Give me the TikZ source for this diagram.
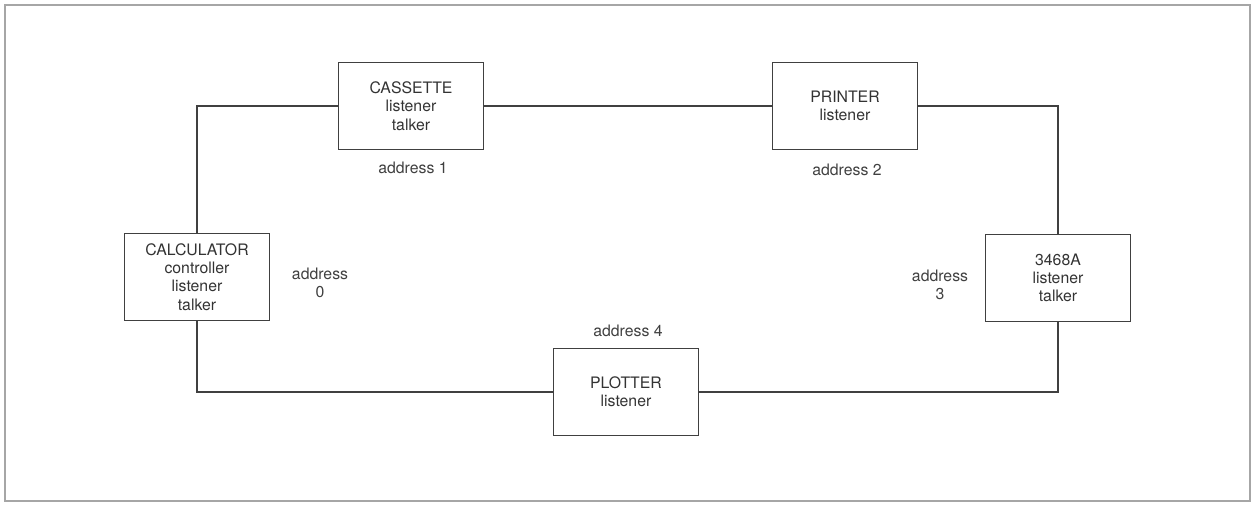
\documentclass[tikz,border=0pt]{standalone}
\usepackage{fontspec}
\setmainfont{TeX Gyre Heros}
\usepackage{tikz}
\usetikzlibrary{calc}

\begin{document}
\begin{tikzpicture}[x=0.02cm,y=-0.02cm,
    unit/.style={draw=black!75, line width=1pt, minimum width=2.9cm, minimum height=1.74cm,
      align=center, inner sep=1pt, text=black!80, font=\fontsize{9}{10.4}\selectfont},
    addr/.style={align=center, inner sep=0pt, text=black!75, font=\fontsize{9}{10.4}\selectfont},
    bus/.style={draw=black!75, line width=1pt}]
    \useasboundingbox (0,0) rectangle (1251,504);
    \draw[black!35, line width=0.6pt] (5,5) rectangle (1250,501);

    \node[unit] (calc) at (197,277) {CALCULATOR\\controller\\listener\\talker};
    \node[unit] (cass) at (411,106) {CASSETTE\\listener\\talker};
    \node[unit] (prin) at (845,106) {PRINTER\\listener};
    \node[unit] (hp) at (1058,278) {3468A\\listener\\talker};
    \node[unit] (plot) at (626,392) {PLOTTER\\listener};

    \node[addr] (a0) at (320,283) {address\\0};
    \node[addr] (a1) at (413,168) {address 1};
    \node[addr] (a2) at (847,170) {address 2};
    \node[addr] (a3) at (940,285) {address\\3};
    \node[addr] (a4) at (628,331) {address 4};

    % the bus loop
    \draw[bus] (cass.west) -| (calc.north);
    \draw[bus] (calc.south) |- (plot.west);
    \draw[bus] (plot.east) -| (hp.south);
    \draw[bus] (hp.north) |- (prin.east);
    \draw[bus] (prin.west) -- (cass.east);
  \end{tikzpicture}
\end{document}
